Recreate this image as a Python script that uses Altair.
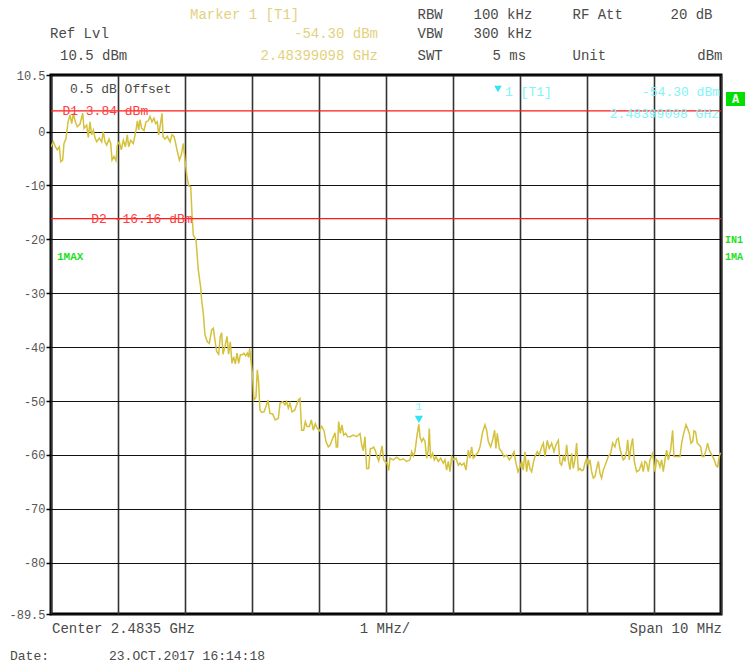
import altair as alt
import pandas as pd

# ---------------- data ----------------
# frequency offset from start of span (MHz, 0..10 = 2.4785..2.4885 GHz) and level (dBm)
freq_a = [0.0, 0.035, 0.065, 0.095, 0.125, 0.145, 0.174, 0.194, 0.224, 0.254, 0.284, 0.309, 0.334, 0.363,
          0.393, 0.433, 0.473, 0.493, 0.532, 0.557, 0.582, 0.607, 0.632, 0.657, 0.682, 0.721, 0.756, 0.781,
          0.806, 0.831, 0.866, 0.891, 0.911, 0.940, 0.970, 0.990, 1.020, 1.050, 1.080, 1.110, 1.139, 1.159,
          1.189, 1.229, 1.269, 1.289, 1.309, 1.328, 1.353, 1.388, 1.418, 1.453, 1.478, 1.507, 1.537, 1.562,
          1.587, 1.607, 1.627, 1.657, 1.672, 1.701, 1.736, 1.776, 1.806, 1.836, 1.856, 1.886, 1.916, 1.945,
          1.975, 2.000, 2.025, 2.055, 2.085, 2.104, 2.124, 2.164]
level_a = [-2.8, -1.9, -2.8, -3.4, -2.8, -5.6, -5.3, -2.2, -1.3, 1.8, 3.1, 1.5, 3.4, 1.8,
           0.9, 1.4, 3.4, 0.6, 1.2, -1.1, 1.8, -0.6, 0.3, -1.2, -1.9, -1.2, -1.9, 0.0,
           -1.9, -2.5, -1.4, -2.2, -5.3, -4.6, -5.4, -2.5, -1.9, -3.4, -1.6, -2.8, -0.6, -2.8,
           -1.6, -2.2, 0.3, 2.0, 0.3, 2.2, 0.6, 0.2, 1.8, 2.0, 2.8, 1.8, 2.5, 1.5,
           1.8, -0.6, 0.9, 3.4, -0.9, -1.4, -0.9, -1.9, -0.6, -0.9, -1.9, -3.7, -5.3, -4.3,
           -2.2, -5.3, -7.9, -10.1, -10.2, -15.2, -19.2, -20.1]

freq_b = [2.199, 2.233, 2.248, 2.273, 2.298, 2.333, 2.363, 2.398, 2.423, 2.447, 2.472, 2.502, 2.527, 2.547,
          2.567, 2.597, 2.627, 2.651, 2.676, 2.701, 2.726, 2.751, 2.776, 2.801, 2.826, 2.855, 2.880, 2.905,
          2.930, 2.950, 2.965, 2.985, 3.010, 3.029, 3.059, 3.079, 3.099, 3.119, 3.149, 3.179, 3.209, 3.238,
          3.268, 3.308, 3.348, 3.393, 3.418, 3.458, 3.492, 3.517, 3.542, 3.567, 3.597, 3.637, 3.667, 3.692,
          3.716, 3.741, 3.771, 3.796, 3.821, 3.856, 3.886, 3.915, 3.945, 3.975, 4.005, 4.040, 4.075, 4.104,
          4.139, 4.169, 4.194, 4.219, 4.239, 4.259, 4.278, 4.293, 4.318, 4.343, 4.368, 4.398, 4.428, 4.462,
          4.512, 4.562, 4.612, 4.637, 4.661, 4.686, 4.711, 4.741, 4.766, 4.791, 4.816, 4.841, 4.866, 4.890,
          4.920, 4.940, 4.965, 4.990, 5.015, 5.040]
level_b = [-25.7, -28.8, -31.2, -33.7, -37.7, -39.0, -39.3, -36.8, -36.5, -38.7, -40.8, -41.3, -38.0, -37.3,
           -41.3, -39.9, -38.0, -41.3, -39.0, -43.0, -41.8, -43.1, -41.1, -43.0, -41.4, -41.4, -41.1, -41.6,
           -41.1, -41.9, -40.2, -42.5, -45.5, -49.8, -49.3, -44.2, -46.4, -51.7, -52.1, -52.0, -51.0, -49.8,
           -52.3, -52.4, -53.5, -53.2, -50.4, -50.1, -50.7, -50.1, -51.3, -50.4, -52.0, -51.7, -50.7, -49.8,
           -49.5, -55.4, -55.4, -53.8, -54.7, -54.7, -53.5, -55.4, -54.2, -55.1, -55.5, -54.7, -55.5, -57.5,
           -58.5, -58.1, -57.2, -56.5, -55.9, -58.5, -58.5, -53.8, -56.0, -54.4, -56.3, -56.0, -56.6, -56.6,
           -56.3, -56.6, -56.0, -58.1, -59.2, -56.6, -62.5, -62.5, -58.8, -58.8, -58.5, -59.2, -60.3, -61.1,
           -59.6, -58.3, -60.9, -61.3, -61.5, -62.9]

freq_c = [5.059, 5.109, 5.159, 5.209, 5.258, 5.308, 5.358, 5.383, 5.408, 5.432, 5.467, 5.491, 5.507, 5.532,
          5.557, 5.582, 5.607, 5.631, 5.646, 5.666, 5.696, 5.721, 5.746, 5.781, 5.815, 5.855, 5.880, 5.905,
          5.930, 5.955, 5.980, 6.015, 6.045, 6.079, 6.104, 6.129, 6.164, 6.194, 6.229, 6.253, 6.278, 6.303,
          6.343, 6.378, 6.403, 6.443, 6.477, 6.502, 6.527, 6.562, 6.592, 6.621, 6.641, 6.661, 6.691, 6.726,
          6.761, 6.800, 6.840, 6.875, 6.910, 6.940, 6.970, 7.000, 7.025, 7.049, 7.074, 7.099, 7.124, 7.149,
          7.174, 7.198]
level_c = [-60.6, -60.9, -60.4, -60.9, -60.7, -61.2, -60.9, -59.4, -60.2, -59.4, -56.0, -54.3, -56.6, -57.5,
           -56.9, -57.5, -60.6, -59.1, -55.1, -60.6, -59.7, -60.9, -60.3, -61.2, -60.6, -61.5, -60.9, -62.8,
           -61.2, -63.1, -60.3, -60.9, -60.6, -61.9, -61.5, -61.9, -61.5, -62.8, -59.1, -60.6, -58.5, -60.6,
           -60.0, -59.4, -58.5, -55.7, -54.4, -55.4, -57.5, -58.5, -57.2, -55.4, -58.8, -56.0, -58.8, -59.4,
           -60.3, -60.0, -60.9, -60.3, -59.4, -61.5, -63.1, -62.2, -61.2, -62.8, -59.4, -63.1, -60.9, -62.5,
           -63.1, -61.5]

freq_d = [7.223, 7.258, 7.288, 7.323, 7.348, 7.373, 7.407, 7.437, 7.472, 7.507, 7.537, 7.572, 7.597, 7.621,
          7.646, 7.671, 7.696, 7.721, 7.746, 7.771, 7.796, 7.820, 7.845, 7.870, 7.895, 7.920, 7.945, 7.970,
          7.995, 8.020, 8.044, 8.069, 8.094, 8.119, 8.144, 8.169, 8.194, 8.218, 8.243, 8.283, 8.318, 8.353,
          8.383, 8.417, 8.442, 8.467, 8.492, 8.517, 8.542, 8.567, 8.592, 8.607, 8.631, 8.656, 8.681, 8.706,
          8.741, 8.781, 8.816, 8.840, 8.865, 8.890, 8.915, 8.940, 8.980, 9.015, 9.039, 9.064, 9.089, 9.114,
          9.139, 9.164, 9.189, 9.214, 9.248, 9.278, 9.298, 9.328, 9.363, 9.388, 9.413, 9.437, 9.462, 9.477,
          9.502, 9.527, 9.552, 9.577, 9.597, 9.621, 9.646, 9.671, 9.696, 9.721, 9.746, 9.776, 9.800, 9.825,
          9.850, 9.875, 9.900, 9.925, 9.950, 9.965, 9.985, 10.0]
level_d = [-60.3, -59.4, -60.0, -58.5, -57.8, -60.3, -57.3, -58.8, -57.8, -59.4, -58.1, -57.3, -61.5, -61.9,
           -60.3, -61.2, -58.1, -60.9, -62.7, -59.7, -62.5, -60.9, -57.8, -62.8, -62.5, -62.9, -62.8, -61.5,
           -60.6, -61.9, -60.9, -63.1, -64.3, -64.0, -62.5, -61.2, -63.4, -64.3, -62.8, -61.5, -60.3, -59.7,
           -57.8, -58.5, -57.2, -56.9, -58.8, -60.0, -60.9, -60.6, -59.1, -57.2, -60.9, -58.5, -56.9, -61.2,
           -63.1, -62.8, -61.5, -63.1, -61.2, -61.5, -63.1, -60.9, -59.7, -63.1, -60.9, -61.2, -62.2, -60.9,
           -63.1, -60.9, -59.1, -60.9, -59.1, -55.4, -60.3, -60.3, -60.3, -60.3, -57.8, -56.3, -55.1, -54.4,
           -55.1, -56.0, -57.8, -57.5, -55.5, -55.7, -57.8, -58.1, -58.5, -60.3, -60.3, -59.1, -57.8, -59.1,
           -59.7, -60.3, -60.9, -61.9, -62.2, -60.9, -59.7, -59.7]

display_line_names = ["D1", "D2"]
display_line_levels = [3.84, -16.16]

marker_freq = [5.491]
marker_level = [-54.3]

y_tick_values = [10.5, 0, -10, -20, -30, -40, -50, -60, -70, -80, -89.5]
x_div_values = [0, 1, 2, 3, 4, 5, 6, 7, 8, 9, 10]

# ---------------- chart ----------------
MONO = "Liberation Mono"
GRAY = "#4a4a4a"
YEL = "#e2d27e"
CYAN = "#80f4f8"
RED = "#ff3c3c"
GREEN = "#1ee01e"
TRACE = "#d4c13c"

trace = pd.DataFrame({"f": freq_a + freq_b + freq_c + freq_d,
                      "lvl": level_a + level_b + level_c + level_d})

xs = alt.Scale(domain=[0, 10], nice=False, zero=False)
ys = alt.Scale(domain=[-89.5, 10.5], nice=False, zero=False)

x_axis = alt.Axis(values=x_div_values, grid=True, labels=False, ticks=False,
                  domain=False, title=None, gridColor="#333333", gridWidth=1.6)
y_axis = alt.Axis(values=y_tick_values, grid=True, labelExpr="'' + datum.value",
                  labelFont=MONO, labelFontSize=12, labelColor="#555555",
                  tickSize=5, tickColor="black", tickWidth=1.5, domain=False,
                  title=None, gridColor="#111111", gridWidth=1.2, labelPadding=1)

X = alt.X("f:Q", scale=xs, axis=x_axis)
Y = alt.Y("lvl:Q", scale=ys, axis=y_axis)

one = pd.DataFrame({"k": [0]})


def txt(s, x, y, color, size=14, align="left", weight="normal"):
    return alt.Chart(one).mark_text(
        text=s, align=align, baseline="middle", color=color, fontSize=size,
        font=MONO, fontWeight=weight
    ).encode(x=alt.value(x), y=alt.value(y))


trace_layer = alt.Chart(trace).mark_line(color=TRACE, strokeWidth=1.5, clip=True).encode(x=X, y=Y)

lines_df = pd.DataFrame({"name": display_line_names, "lvl": display_line_levels})
rules = alt.Chart(lines_df).mark_rule(color="#ff1a1a", strokeWidth=1.2).encode(y=Y)

lbl_df = pd.DataFrame({"f": [0.17, 0.6], "lvl": display_line_levels,
                       "t": ["D1 3.84 dBm", "D2 -16.16 dBm"]})
d_labels = alt.Chart(lbl_df).mark_text(align="left", baseline="middle", color=RED,
                                       fontSize=13, font=MONO).encode(x=X, y=Y, text="t:N")

mk_df = pd.DataFrame({"f": marker_freq, "lvl": marker_level})
marker = alt.Chart(mk_df).mark_point(shape="triangle-down", filled=True, color="#30e4f4", size=70,
                                     opacity=1, yOffset=-5).encode(x=X, y=Y)
marker_lbl = alt.Chart(mk_df).mark_text(text="1", color=CYAN, fontSize=11, font=MONO, dy=-17).encode(x=X, y=Y)

# header
header = [
    txt("Marker 1 [T1]", 139, -60.5, YEL),
    txt("Ref Lvl", -1, -41, GRAY),
    txt("-54.30 dBm", 327, -41, YEL, align="right"),
    txt("10.5 dBm", 9, -19.5, GRAY),
    txt("2.48399098 GHz", 327, -19.5, YEL, align="right"),
    txt("RBW", 366.5, -60.5, GRAY),
    txt("100 kHz", 422.5, -60.5, GRAY),
    txt("RF Att", 521.5, -60.5, GRAY),
    txt("20 dB", 661.5, -60.5, GRAY, align="right"),
    txt("VBW", 366.5, -41, GRAY),
    txt("300 kHz", 422.5, -41, GRAY),
    txt("SWT", 366.5, -19.5, GRAY),
    txt("5 ms", 441.5, -19.5, GRAY),
    txt("Unit", 521.5, -19.5, GRAY),
    txt("dBm", 671.5, -19.5, GRAY, align="right"),
]

inside = [
    txt("0.5 dB Offset", 19, 13.5, GRAY, size=13),
    txt("1MAX", 6, 182, GREEN, size=11, weight="bold"),
    txt("1 [T1]", 454, 16.5, CYAN, size=13),
    txt("-54.30 dBm", 669, 16.5, CYAN, size=13, align="right"),
    txt("2.48399098 GHz", 668, 38.5, CYAN, size=13, align="right"),
]

top_tri = alt.Chart(one).mark_point(shape="triangle-down", filled=True, color="#30e4f4", size=55,
                                    opacity=1).encode(x=alt.value(447), y=alt.value(14))

a_box = alt.Chart(one).mark_rect(color="#00e000").encode(
    x=alt.value(675), x2=alt.value(694), y=alt.value(17), y2=alt.value(31))
right_side = [
    a_box,
    txt("A", 684.5, 24, "white", size=12, align="center", weight="bold"),
    txt("IN1", 674, 165, GREEN, size=10, weight="bold"),
    txt("1MA", 674, 182, GREEN, size=10, weight="bold"),
]

footer = [
    txt("Center 2.4835 GHz", 1, 554, GRAY),
    txt("1 MHz/", 334, 554, GRAY, align="center"),
    txt("Span 10 MHz", 671, 554, GRAY, align="right"),
    txt("Date:", -41, 581, GRAY, size=13),
    txt("23.OCT.2017  16:14:18", 58, 581, GRAY, size=13),
]

chart = alt.layer(
    trace_layer, rules, d_labels, *inside, top_tri, *right_side,
    *header, *footer, marker, marker_lbl
).properties(
    width=670, height=539,
    padding={"left": 43, "top": 67, "right": 24, "bottom": 52},
    autosize=alt.AutoSizeParams(type="none"),
    background="white",
).configure_view(stroke="black", strokeWidth=3)

chart.save("out.html", embed_options={"renderer": "svg", "actions": False})
